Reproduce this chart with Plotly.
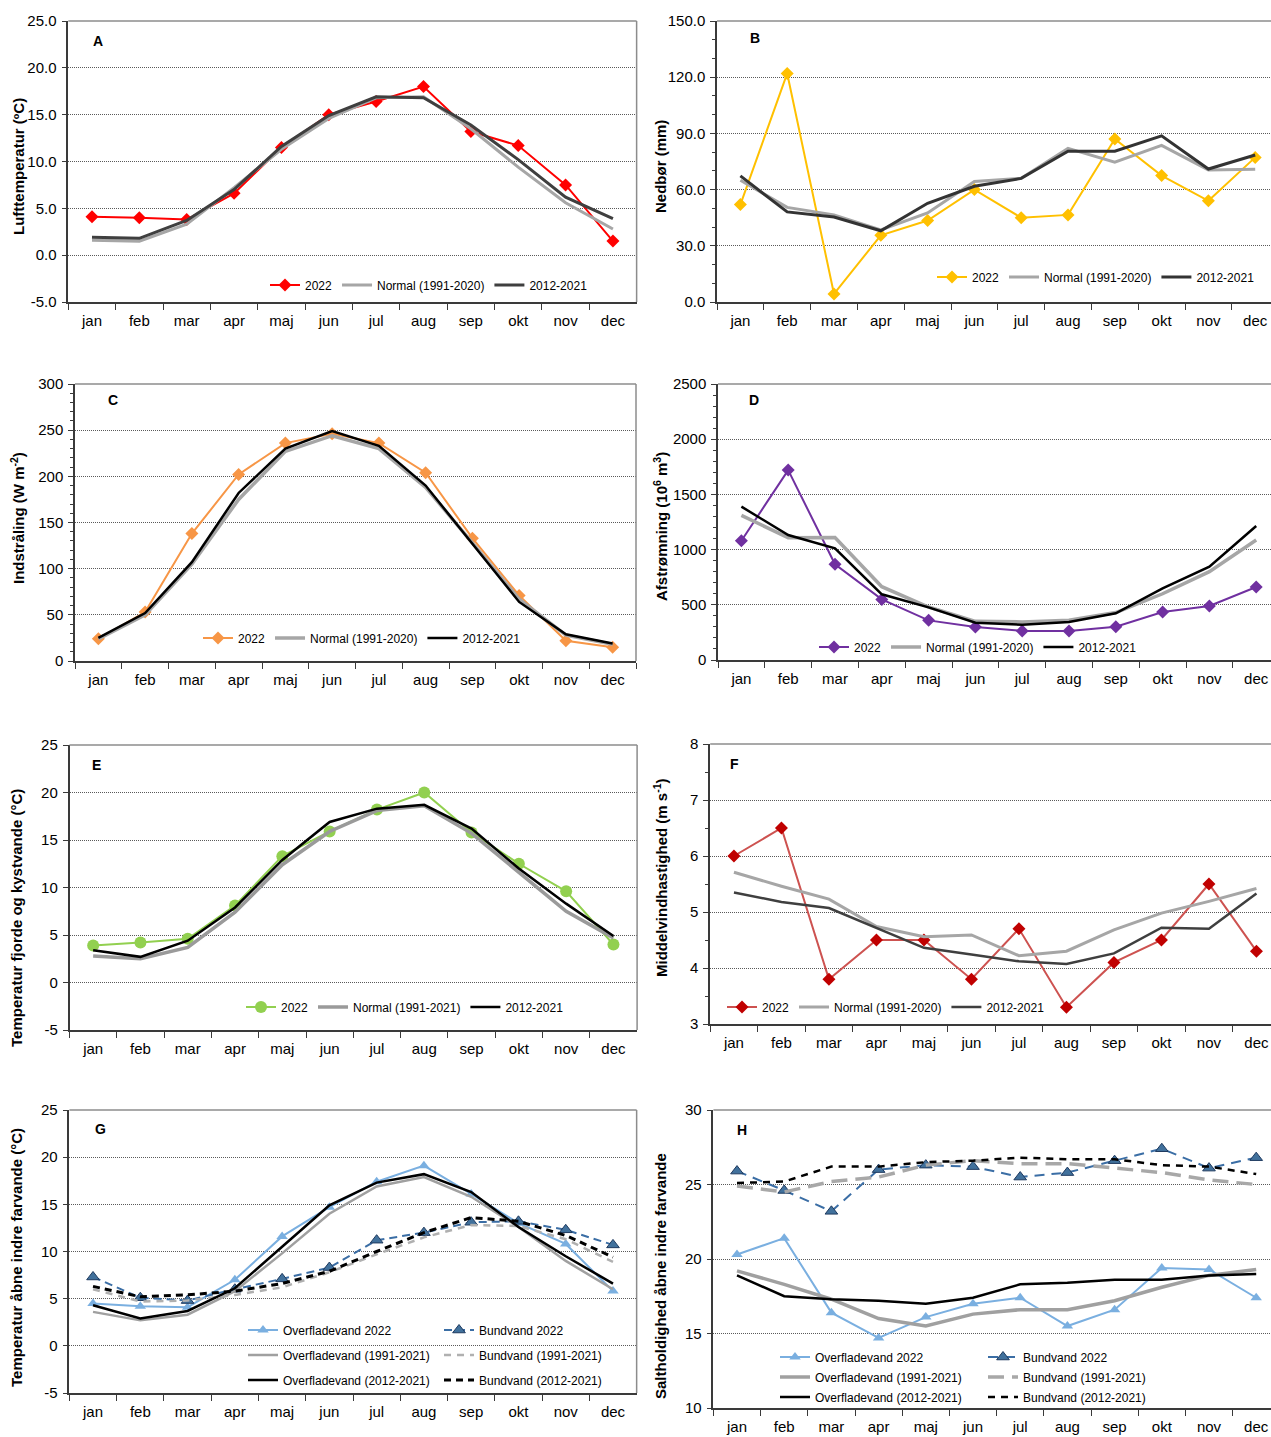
import plotly.graph_objects as go

FIG_W, FIG_H = 1271, 1437
FONT = "Liberation Sans, Arial, sans-serif"

months = ["jan", "feb", "mar", "apr", "maj", "jun", "jul", "aug", "sep", "okt", "nov", "dec"]

# A - lufttemperatur (°C)
luft_2022 = [4.1, 4.0, 3.8, 6.6, 11.5, 15.0, 16.4, 18.0, 13.2, 11.7, 7.5, 1.5]
luft_normal = [1.6, 1.5, 3.3, 7.2, 11.3, 14.6, 16.8, 16.9, 13.5, 9.4, 5.6, 2.8]
luft_2012_2021 = [1.9, 1.8, 3.7, 7.0, 11.6, 14.9, 16.9, 16.8, 13.9, 10.2, 6.2, 3.9]

# B - nedbør (mm)
nedbor_2022 = [52.0, 122.0, 4.3, 35.6, 43.5, 60.0, 45.0, 46.5, 87.0, 67.5, 54.0, 77.2]
nedbor_normal = [65.0, 50.5, 46.5, 38.5, 47.5, 64.3, 66.0, 82.0, 74.6, 83.6, 70.5, 70.9]
nedbor_2012_2021 = [67.3, 48.1, 45.4, 38.0, 52.7, 61.8, 66.0, 80.5, 80.5, 88.7, 71.0, 78.5]

# C - indstråling (W m-2)
straaling_2022 = [24, 53, 138, 202, 236, 246, 236, 204, 133, 71, 22, 15]
straaling_normal = [24, 50, 105, 175, 227, 244, 230, 188, 128, 67, 28, 18]
straaling_2012_2021 = [25, 52, 107, 182, 230, 249, 233, 190, 127, 64, 29, 19]

# D - afstrømning (10^6 m3)
afstr_2022 = [1080, 1720, 867, 549, 359, 299, 263, 263, 302, 435, 489, 661]
afstr_normal = [1310, 1108, 1110, 664, 480, 350, 345, 360, 430, 600, 800, 1087]
afstr_2012_2021 = [1389, 1132, 1011, 595, 477, 338, 320, 345, 423, 649, 845, 1214]

# E - temperatur fjorde og kystvande (°C)
fjord_2022 = [3.9, 4.2, 4.6, 8.1, 13.3, 15.9, 18.2, 20.0, 15.8, 12.5, 9.6, 4.0]
fjord_normal = [2.8, 2.5, 3.7, 7.4, 12.4, 15.9, 18.1, 18.6, 15.7, 11.6, 7.5, 4.7]
fjord_2012_2021 = [3.4, 2.7, 4.4, 7.9, 12.9, 16.9, 18.3, 18.7, 16.2, 12.0, 8.3, 4.9]

# F - middelvindhastighed (m s-1)
vind_2022 = [6.0, 6.5, 3.8, 4.5, 4.5, 3.8, 4.7, 3.3, 4.1, 4.5, 5.5, 4.3]
vind_normal = [5.71, 5.46, 5.23, 4.74, 4.56, 4.59, 4.22, 4.30, 4.68, 4.98, 5.19, 5.42]
vind_2012_2021 = [5.35, 5.18, 5.07, 4.72, 4.36, 4.24, 4.12, 4.07, 4.26, 4.72, 4.70, 5.33]

# G - temperatur åbne indre farvande (°C)
temp_overflade_2022 = [4.5, 4.2, 4.1, 7.0, 11.6, 14.7, 17.4, 19.1, 16.1, 13.0, 10.8, 5.8]
temp_bund_2022 = [7.3, 5.1, 4.8, 6.0, 7.1, 8.3, 11.2, 12.0, 13.1, 13.2, 12.3, 10.7]
temp_overflade_1991_2021 = [3.6, 2.7, 3.3, 5.8, 9.8, 14.0, 16.9, 17.9, 15.8, 12.6, 9.0, 6.0]
temp_bund_1991_2021 = [6.0, 4.7, 4.8, 5.4, 6.2, 7.8, 9.7, 11.5, 12.8, 12.7, 11.3, 8.9]
temp_overflade_2012_2021 = [4.3, 2.9, 3.7, 6.1, 10.5, 14.9, 17.3, 18.2, 16.3, 12.6, 9.5, 6.6]
temp_bund_2012_2021 = [6.3, 5.2, 5.4, 5.8, 6.6, 7.9, 10.0, 12.0, 13.6, 13.2, 11.7, 9.4]

# H - saltholdighed åbne indre farvande
salt_overflade_2022 = [20.3, 21.4, 16.4, 14.7, 16.1, 17.0, 17.4, 15.5, 16.6, 19.4, 19.3, 17.4]
salt_bund_2022 = [25.9, 24.6, 23.2, 26.0, 26.3, 26.2, 25.5, 25.8, 26.6, 27.4, 26.1, 26.8]
salt_overflade_1991_2021 = [19.2, 18.3, 17.3, 16.0, 15.5, 16.3, 16.6, 16.6, 17.2, 18.1, 18.9, 19.3]
salt_bund_1991_2021 = [24.9, 24.5, 25.2, 25.5, 26.3, 26.6, 26.4, 26.4, 26.1, 25.8, 25.3, 25.0]
salt_overflade_2012_2021 = [18.9, 17.5, 17.3, 17.2, 17.0, 17.4, 18.3, 18.4, 18.6, 18.6, 18.9, 19.0]
salt_bund_2012_2021 = [25.1, 25.2, 26.2, 26.2, 26.5, 26.6, 26.8, 26.7, 26.7, 26.3, 26.2, 25.7]

# colours
AXIS = "#3a3a3a"
GRID = "#5a5a5a"
BORDER = "#8c8c8c"
GREY = "#a6a6a6"
DARK = "#3f3f3f"
BLACK = "#000000"

# plot boxes in pixels: left edge, width of one month, top, bottom
PANELS = [
    dict(tag="A", left=68.3, step=47.36, top=21, bottom=302, yrange=(-5, 25), dtick=5, minor=None, decimals=1,
         title="Lufttemperatur (ºC)", title_pos=(18, 167), tag_pos=(98, 41)),
    dict(tag="B", left=717, step=46.8, top=21, bottom=302, yrange=(0, 150), dtick=30, minor=10, decimals=1,
         title="Nedbør (mm)", title_pos=(660, 167), tag_pos=(755, 38)),
    dict(tag="C", left=75, step=46.75, top=384, bottom=661, yrange=(0, 300), dtick=50, minor=10, decimals=0,
         title="Indstråling (W m<sup>-2</sup>)", title_pos=(18, 518), tag_pos=(113, 400)),
    dict(tag="D", left=718, step=46.8, top=384, bottom=660, yrange=(0, 2500), dtick=500, minor=100, decimals=0,
         title="Afstrømning (10<sup>6</sup> m<sup>3</sup>)", title_pos=(660, 527), tag_pos=(754, 400)),
    dict(tag="E", left=69.5, step=47.3, top=745, bottom=1030, yrange=(-5, 25), dtick=5, minor=None, decimals=0,
         title="Temperatur fjorde og kystvande (°C)", title_pos=(16, 918), tag_pos=(96, 765)),
    dict(tag="F", left=710.2, step=47.5, top=744, bottom=1024, yrange=(3, 8), dtick=1, minor=0.5, decimals=0,
         title="Middelvindhastighed (m s<sup>-1</sup>)", title_pos=(660, 878), tag_pos=(734, 764)),
    dict(tag="G", left=69.4, step=47.27, top=1110, bottom=1393, yrange=(-5, 25), dtick=5, minor=None, decimals=0,
         title="Temperatur åbne indre farvande (°C)", title_pos=(16, 1258), tag_pos=(100, 1129)),
    dict(tag="H", left=713.4, step=47.2, top=1110, bottom=1408, yrange=(10, 30), dtick=5, minor=None, decimals=0,
         title="Saltholdighed åbne indre farvande", title_pos=(660, 1276), tag_pos=(742, 1130)),
]

# legend boxes: (sample start x, row centre y, orientation, extra gap between rows)
LEGENDS = {
    "legend": (270, 285, "h", 0),
    "legend2": (937, 277, "h", 0),
    "legend3": (203, 638, "h", 0),
    "legend4": (819, 647, "h", 0),
    "legend5": (246, 1007, "h", 0),
    "legend6": (727, 1007, "h", 0),
    "legend7": (248, 1355, "v", 6),
    "legend8": (444, 1355, "v", 6),
    "legend9": (780, 1377, "v", 1),
    "legend10": (988, 1377, "v", 1),
}

fig = go.Figure()


def axis_ids(i):
    s = "" if i == 1 else str(i)
    return "x" + s, "y" + s, "xaxis" + s, "yaxis" + s


def add_series(i, name, y, legend, color, width, dash="solid", marker=None):
    xr, yr, _, _ = axis_ids(i)
    fig.add_trace(go.Scatter(
        x=months, y=y, name=name, xaxis=xr, yaxis=yr,
        mode="lines+markers" if marker else "lines",
        line=dict(color=color, width=width, dash=dash),
        marker=marker, legend=legend, legendgroup=f"{legend}:{name}",
    ))


def diamond(color, size=9):
    return dict(symbol="diamond", size=size, color=color, line=dict(width=0))


def triangle(color, size=10, outline=None):
    return dict(symbol="triangle-up", size=size, color=color,
                line=dict(width=1 if outline else 0, color=outline or color))


# A
add_series(1, "2022", luft_2022, "legend", "#ff0000", 2, marker=diamond("#ff0000", 10))
add_series(1, "Normal (1991-2020)", luft_normal, "legend", GREY, 3)
add_series(1, "2012-2021", luft_2012_2021, "legend", DARK, 3)

# B
add_series(2, "2022", nedbor_2022, "legend2", "#ffc000", 2, marker=diamond("#ffc000", 10))
add_series(2, "Normal (1991-2020)", nedbor_normal, "legend2", GREY, 3)
add_series(2, "2012-2021", nedbor_2012_2021, "legend2", "#333333", 3)

# C
add_series(3, "2022", straaling_2022, "legend3", "#f79646", 2, marker=diamond("#f79646", 10))
add_series(3, "Normal (1991-2020)", straaling_normal, "legend3", GREY, 3.5)
add_series(3, "2012-2021", straaling_2012_2021, "legend3", BLACK, 2.5)

# D
add_series(4, "2022", afstr_2022, "legend4", "#7030a0", 2, marker=diamond("#7030a0", 10))
add_series(4, "Normal (1991-2020)", afstr_normal, "legend4", GREY, 3.5)
add_series(4, "2012-2021", afstr_2012_2021, "legend4", BLACK, 2.5)

# E
add_series(5, "2022", fjord_2022, "legend5", "#92d050", 2,
           marker=dict(symbol="circle", size=12, color="#92d050", line=dict(width=0)))
add_series(5, "Normal (1991-2021)", fjord_normal, "legend5", "#9a9a9a", 3.5)
add_series(5, "2012-2021", fjord_2012_2021, "legend5", BLACK, 2.5)

# F
add_series(6, "2022", vind_2022, "legend6", "#cd5250", 2, marker=diamond("#c00000", 10))
add_series(6, "Normal (1991-2020)", vind_normal, "legend6", GREY, 3)
add_series(6, "2012-2021", vind_2012_2021, "legend6", DARK, 2.5)

# G
add_series(7, "Overfladevand 2022", temp_overflade_2022, "legend7", "#7aafe0", 2, marker=triangle("#7aafe0", 10))
add_series(7, "Bundvand 2022", temp_bund_2022, "legend8", "#3b6ea5", 2, dash="8px,5px",
           marker=triangle("#41719c", 11, "#1f3a5f"))
add_series(7, "Overfladevand (1991-2021)", temp_overflade_1991_2021, "legend7", "#a0a0a0", 2.5)
add_series(7, "Bundvand (1991-2021)", temp_bund_1991_2021, "legend8", "#b0b0b0", 2.5, dash="7px,6px")
add_series(7, "Overfladevand (2012-2021)", temp_overflade_2012_2021, "legend7", BLACK, 2.5)
add_series(7, "Bundvand (2012-2021)", temp_bund_2012_2021, "legend8", BLACK, 3, dash="7px,5px")

# H
add_series(8, "Overfladevand 2022", salt_overflade_2022, "legend9", "#7aafe0", 2, marker=triangle("#7aafe0", 10))
add_series(8, "Bundvand 2022", salt_bund_2022, "legend10", "#3b6ea5", 2, dash="10px,7px",
           marker=triangle("#41719c", 11, "#1f3a5f"))
add_series(8, "Overfladevand (1991-2021)", salt_overflade_1991_2021, "legend9", "#a0a0a0", 3.5)
add_series(8, "Bundvand (1991-2021)", salt_bund_1991_2021, "legend10", "#a8a8a8", 3.5, dash="16px,8px")
add_series(8, "Overfladevand (2012-2021)", salt_overflade_2012_2021, "legend9", BLACK, 2.5)
add_series(8, "Bundvand (2012-2021)", salt_bund_2012_2021, "legend10", BLACK, 2.5, dash="7px,6px")

layout = dict(
    width=FIG_W, height=FIG_H, margin=dict(l=0, r=0, t=0, b=0, autoexpand=False),
    paper_bgcolor="white", plot_bgcolor="white",
    font=dict(family=FONT, size=15, color="black"),
    hovermode=False,
)
shapes, annotations = [], []

for i, p in enumerate(PANELS, start=1):
    xr, yr, xa, ya = axis_ids(i)
    right = p["left"] + 12 * p["step"]
    clipped = right > FIG_W
    x_end = -0.5 + (FIG_W - p["left"]) / p["step"] if clipped else 11.5
    dom_r = 1.0 if clipped else right / FIG_W
    layout[xa] = dict(
        domain=[p["left"] / FIG_W, dom_r], anchor=yr, type="category",
        range=[-0.5, x_end], tickson="boundaries", ticks="outside", ticklen=6,
        tickcolor=AXIS, tickwidth=1, showline=True, linecolor=AXIS, linewidth=1.5,
        showgrid=False, zeroline=False, tickfont=dict(size=15), fixedrange=True,
        automargin=False, ticklabelstandoff=4,
    )
    y0, y1 = p["yrange"]
    n = int(round((y1 - y0) / p["dtick"]))
    vals = [y0 + k * p["dtick"] for k in range(n + 1)]
    # hyphen-minus labels, as in the printed report
    texts = [f"{v:.{p['decimals']}f}" for v in vals]
    layout[ya] = dict(
        domain=[1 - p["bottom"] / FIG_H, 1 - p["top"] / FIG_H], anchor=xr,
        range=[y0, y1], tickmode="array", tickvals=vals, ticktext=texts,
        ticks="outside", ticklen=5, tickcolor=AXIS, showline=True, linecolor=AXIS,
        linewidth=1.5, showgrid=True, gridcolor=GRID, griddash="1px,1px", gridwidth=1,
        zeroline=False, tickfont=dict(size=15), fixedrange=True, automargin=False,
        ticklabelstandoff=2,
    )
    if p["minor"]:
        layout[ya]["minor"] = dict(tickmode="linear", dtick=p["minor"], tick0=y0, ticks="outside",
                                   ticklen=3, tickcolor=AXIS, showgrid=False)

    # grey frame on the top and right sides of the plot area
    shapes.append(dict(type="line", xref=f"{xr} domain", yref=f"{yr} domain",
                       x0=0, x1=1, y0=1, y1=1, line=dict(color=BORDER, width=1.5)))
    if not clipped:
        shapes.append(dict(type="line", xref=f"{xr} domain", yref=f"{yr} domain",
                           x0=1, x1=1, y0=0, y1=1, line=dict(color=BORDER, width=1.5)))

    tx, ty = p["tag_pos"]
    annotations.append(dict(text=f"<b>{p['tag']}</b>", x=tx / FIG_W, y=1 - ty / FIG_H,
                            xref="paper", yref="paper", showarrow=False,
                            font=dict(size=14), xanchor="center", yanchor="middle"))
    hx, hy = p["title_pos"]
    annotations.append(dict(text=f"<b>{p['title']}</b>", x=hx / FIG_W, y=1 - hy / FIG_H,
                            xref="paper", yref="paper", showarrow=False, textangle=-90,
                            font=dict(size=15), xanchor="center", yanchor="middle"))

for key, (sx, cy, orient, gap) in LEGENDS.items():
    layout[key] = dict(
        x=(sx - 5) / FIG_W, y=1 - cy / FIG_H, xanchor="left", yanchor="middle",
        orientation=orient, bgcolor="rgba(0,0,0,0)", borderwidth=0,
        font=dict(size=12, color="black"), itemwidth=30, traceorder="grouped",
        tracegroupgap=gap, itemclick=False, itemdoubleclick=False,
    )

layout["shapes"] = shapes
layout["annotations"] = annotations
fig.update_layout(**layout)

fig.write_html("out.html")
